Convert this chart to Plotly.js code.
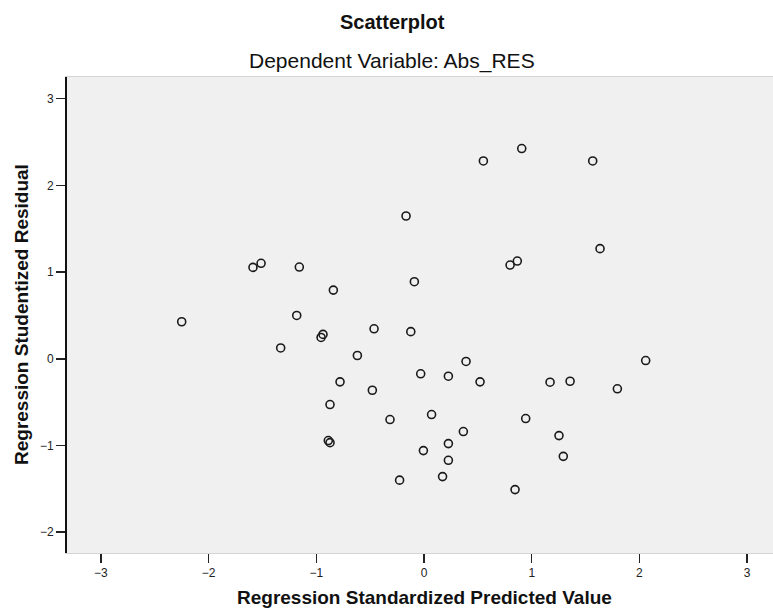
<!DOCTYPE html>
<html>
<head>
<meta charset="utf-8">
<script src="https://cdn.plot.ly/plotly-3.0.1.min.js"></script>
<style>html,body{margin:0;padding:0;background:#fff;}#chart{width:773px;height:612px;}</style>
</head>
<body>
<div id="chart"></div>
<script>
// Regression Standardized Predicted Value
var predictedValue = [
  -2.250, -1.588, -1.513, -1.158, -0.842, -1.182, -1.331, -0.956, -0.938, -0.619,
  -0.464, -0.167, -0.090, -0.123, -0.780, -0.480, -0.873, -0.316, -0.889, -0.873,
   0.070,  0.365,  0.226, -0.006,  0.226, -0.227,  0.172, -0.031,  0.226,  0.390,
   0.520,  0.551,  0.907,  1.566,  1.634,  0.799,  0.866,  1.170,  1.356,  1.795,
   2.058,  0.944,  1.253,  1.293,  0.845
];
// Regression Studentized Residual
var studentizedResidual = [
   0.427,  1.054,  1.101,  1.058,  0.792,  0.500,  0.125,  0.246,  0.281,  0.038,
   0.346,  1.647,  0.889,  0.313, -0.266, -0.363, -0.528, -0.701, -0.943, -0.967,
  -0.643, -0.839, -0.978, -1.059, -1.171, -1.400, -1.359, -0.173, -0.201, -0.031,
  -0.266,  2.282,  2.425,  2.282,  1.270,  1.081,  1.127, -0.270, -0.259, -0.346,
  -0.020, -0.689, -0.886, -1.125, -1.509
];
var xTicks = [-3, -2, -1, 0, 1, 2, 3];
var yTicks = [-2, -1, 0, 1, 2, 3];

var trace = {
  x: predictedValue,
  y: studentizedResidual,
  type: 'scatter',
  mode: 'markers',
  marker: {symbol: 'circle-open', size: 8, color: '#1a1a1a', line: {width: 1.6, color: '#1a1a1a'}},
  hoverinfo: 'x+y'
};

var fontFam = 'Liberation Sans, Arial, sans-serif';
var mL = 67, mR = 0, mT = 77, mB = 59, W = 773, H = 612;
var plotW = W - mL - mR, plotH = H - mT - mB;
function px2x(px) { return (px - mL) / plotW; }
function py2y(py) { return (H - mB - py) / plotH; }

var layout = {
  width: W, height: H,
  margin: {l: mL, r: mR, t: mT, b: mB},
  paper_bgcolor: '#ffffff',
  plot_bgcolor: '#f0f0f0',
  showlegend: false,
  font: {family: fontFam, color: '#222'},
  annotations: [
    {text: '<b>Scatterplot</b>', xref: 'paper', yref: 'paper', x: px2x(392), y: py2y(22),
     xanchor: 'center', yanchor: 'middle', showarrow: false, font: {size: 20, family: fontFam, color: '#111'}},
    {text: 'Dependent Variable: Abs_RES', xref: 'paper', yref: 'paper', x: px2x(392), y: py2y(61),
     xanchor: 'center', yanchor: 'middle', showarrow: false, font: {size: 21, family: fontFam, color: '#111'}},
    {text: '<b>Regression Standardized Predicted Value</b>', xref: 'paper', yref: 'paper', x: px2x(425), y: py2y(597),
     xanchor: 'center', yanchor: 'middle', showarrow: false, font: {size: 19, family: fontFam, color: '#111'}},
    {text: '<b>Regression Studentized Residual</b>', xref: 'paper', yref: 'paper', x: px2x(21), y: py2y(315),
     xanchor: 'center', yanchor: 'middle', textangle: -90, showarrow: false, font: {size: 19, family: fontFam, color: '#111'}}
  ],
  xaxis: {
    range: [-3.315, 3.24],
    tickmode: 'array', tickvals: xTicks,
    ticks: 'outside', ticklen: 9, tickwidth: 1.5, tickcolor: '#222',
    tickfont: {size: 12, color: '#222', family: fontFam},
    showgrid: false, zeroline: false,
    showline: true, linecolor: '#d4d4d4', linewidth: 1, mirror: true
  },
  yaxis: {
    range: [-2.24, 3.25],
    tickmode: 'array', tickvals: yTicks,
    ticks: 'outside', ticklen: 9, tickwidth: 1.5, tickcolor: '#222',
    tickfont: {size: 12, color: '#222', family: fontFam},
    showgrid: false, zeroline: false,
    showline: true, linecolor: '#111', linewidth: 2
  }
};

Plotly.newPlot('chart', [trace], layout, {displayModeBar: false, staticPlot: true});
</script>
</body>
</html>
